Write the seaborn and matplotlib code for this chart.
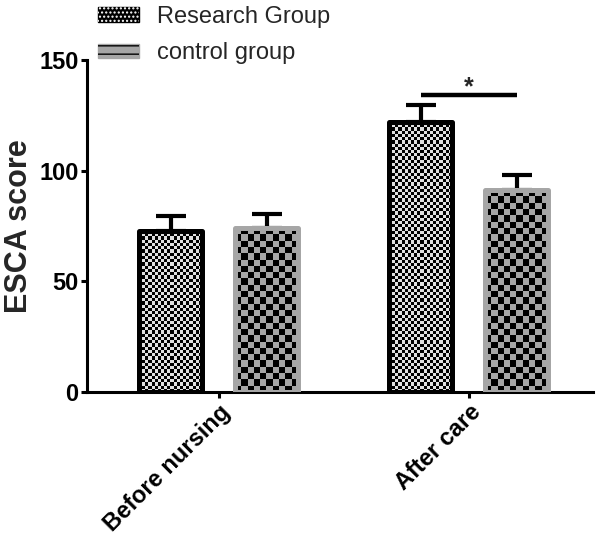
import matplotlib
matplotlib.use("Agg")
import matplotlib.pyplot as plt
from matplotlib.patches import Patch
from matplotlib.colors import ListedColormap
from matplotlib.legend_handler import HandlerTuple
import seaborn as sns
import numpy as np
import pandas as pd

# data
stages = ["Before nursing", "After care"]
groups = ["Research Group", "control group"]
research_mean = [73.0, 122.2]
research_sd = [6.7, 7.8]
control_mean = [74.1, 91.3]
control_sd = [6.3, 6.7]
sig_stage = 1
sig_label = "*"
sig_y = 134.2

sns.set_style("ticks")
plt.rcParams['font.family'] = ['Liberation Sans', 'DejaVu Sans']

df = pd.DataFrame({
    "stage": stages * 2,
    "group": [groups[0]] * 2 + [groups[1]] * 2,
    "score": research_mean + control_mean,
})
sds = {groups[0]: research_sd, groups[1]: control_sd}

fig = plt.figure(figsize=(6, 5.53), dpi=100)
ax = fig.add_axes([0.145, 0.291, 0.843, 0.60])

sns.barplot(data=df, x="stage", y="score", hue="group", order=stages,
            hue_order=groups, width=0.768, gap=0.344, errorbar=None,
            legend=False, ax=ax)
ax.set_xlim(-0.528, 1.496)
ax.set_ylim(0, 150)

edge = {groups[0]: "black", groups[1]: "#a6a6a6"}
cell = {groups[0]: 3.2, groups[1]: 6.4}
checks = {groups[0]: ["black", "#e0e0e0"], groups[1]: ["black", "#a6a6a6"]}

centers = {}
for cont, g in zip(ax.containers, groups):
    for i, (bar, err) in enumerate(zip(cont, sds[g])):
        bar.set_facecolor("none")
        bar.set_edgecolor(edge[g])
        bar.set_linewidth(3.6)
        bar.set_joinstyle("round")
        bar.set_zorder(3)
        x0, y0, w, h = bar.get_x(), bar.get_y(), bar.get_width(), bar.get_height()
        p0 = ax.transData.transform((x0, y0))
        p1 = ax.transData.transform((x0 + w, y0 + h))
        nx = max(1, int(round((p1[0] - p0[0]) / cell[g])))
        ny = max(1, int(round((p1[1] - p0[1]) / cell[g])))
        board = np.add.outer(np.arange(ny), np.arange(nx)) % 2
        im = ax.imshow(board, cmap=ListedColormap(checks[g]),
                       extent=(x0, x0 + w, y0, y0 + h), origin="lower",
                       interpolation="nearest", aspect="auto", zorder=2)
        im.set_clip_path(bar)
        ax.errorbar(x0 + w / 2, h, yerr=[[0], [err]], fmt="none",
                    ecolor="black", elinewidth=3, capsize=11, capthick=3,
                    zorder=2.5)
        centers[(g, i)] = x0 + w / 2

ax.set_xlim(-0.528, 1.496)
ax.set_ylim(0, 150)

# significance bar
xl = centers[(groups[0], sig_stage)]
xr = centers[(groups[1], sig_stage)]
ax.plot([xl, xr], [sig_y, sig_y], color="black", lw=3.2, clip_on=False,
        solid_capstyle="butt")
ax.text((xl + xr) / 2, sig_y + 3.6, sig_label, ha="center", va="center",
        fontsize=18, fontweight="bold")

sns.despine(ax=ax)
for s in ["left", "bottom"]:
    ax.spines[s].set_linewidth(2.2)
    ax.spines[s].set_color("black")
ax.tick_params(axis="both", length=4.5, width=2.2, colors="black", pad=1.5)
ax.set_yticks([0, 50, 100, 150])
ax.set_yticklabels(["0", "50", "100", "150"], fontsize=17, fontweight="bold")
ax.set_xticks([0, 1])
ax.set_xticklabels(stages, rotation=45, ha="right", rotation_mode="anchor",
                   fontsize=17, fontweight="bold")
ax.set_xlabel("")
ax.set_ylabel("ESCA score", fontsize=22, fontweight="bold", labelpad=4)

# legend
h_research = (Patch(facecolor="black", edgecolor="black", linewidth=1),
              Patch(facecolor="none", edgecolor="white", hatch="....", linewidth=0))
h_control = (Patch(facecolor="#a6a6a6", edgecolor="#a6a6a6", linewidth=1),
             Patch(facecolor="none", edgecolor="black", hatch="--", linewidth=0))
fig.legend([h_research, h_control], groups, loc="upper left",
           bbox_to_anchor=(0.128, 1.028), frameon=False, fontsize=17,
           handlelength=1.75, handleheight=0.55, handletextpad=0.75,
           labelspacing=0.62, handler_map={tuple: HandlerTuple(ndivide=1)})

fig.savefig("out.png", dpi=100)
